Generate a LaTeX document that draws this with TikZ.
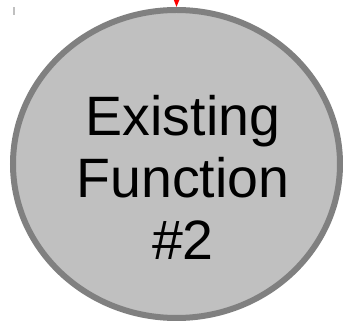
\documentclass[tikz,border=0pt]{standalone}
\usepackage{fontspec}
\setmainfont{Liberation Sans}
\usetikzlibrary{shapes.geometric, arrows.meta, positioning}
\definecolor{funcfill}{RGB}{192,192,192}
\definecolor{funcline}{RGB}{128,128,128}
\tikzstyle{func} = [ellipse, draw=funcline, fill=funcfill, line width=6pt, minimum width=327pt, minimum height=308pt, inner sep=0pt]
\tikzstyle{functext} = [align=center, inner sep=0pt, font=\fontsize{55.5pt}{62pt}\selectfont]
\tikzstyle{call} = [-{Triangle[length=12pt, width=9pt]}, draw=red, fill=red, line width=2pt]

\begin{document}
\begin{tikzpicture}[x=1pt, y=1pt]
  \useasboundingbox (0,0) rectangle (343,324);

  % stray mark top left
  \fill[funcfill] (12.7,309) rectangle (15,317);

  % function
  \node[func] (f2) at (176.5,160) {};
  \node[functext] (f2txt) at (183,146.5) {Existing\\Function\\\#2};

  % incoming call
  \coordinate (caller) at (177,360);
  \draw[call] (caller) -- (f2.north);
\end{tikzpicture}
\end{document}
